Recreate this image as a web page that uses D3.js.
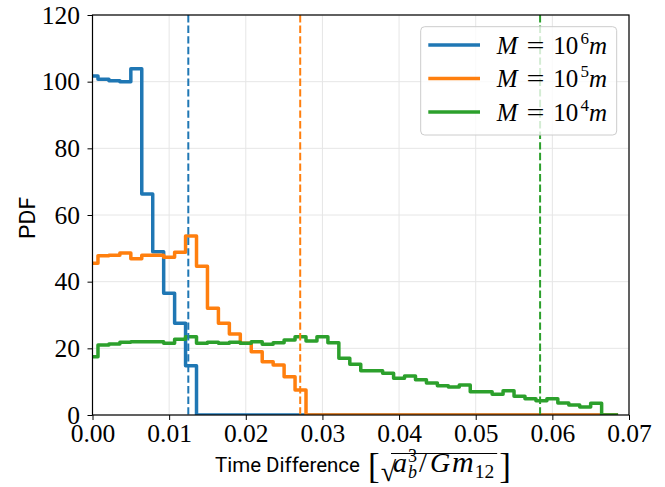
<!DOCTYPE html>
<html>
<head>
<meta charset="utf-8">
<script src="https://cdn.jsdelivr.net/npm/d3@7"></script>
<style>
  html, body { margin: 0; padding: 0; background: #fff; }
  svg { display: block; }
</style>
</head>
<body>
<svg id="chart" width="665" height="487"></svg>
<script>
// ---- data -------------------------------------------------------------
// Histogram bins: uniform width, values given at each bin position.
const binWidth = 0.07 / 49;

const pdfM6 = [101.7, 100.7, 100.3, 100.0, 103.9, 66.3, 49.0, 36.5, 27.5, 14.8,
  0, 0, 0, 0, 0, 0, 0, 0, 0, 0,
  0, 0, 0, 0, 0, 0, 0, 0, 0, 0,
  0, 0, 0, 0, 0, 0, 0, 0, 0, 0,
  0, 0, 0, 0, 0, 0, 0, 0, 0];

const pdfM5 = [45.5, 47.8, 47.9, 48.6, 46.9, 47.9, 47.9, 47.3, 48.8, 53.7,
  44.6, 32.0, 27.5, 24.3, 21.5, 19.0, 16.0, 15.0, 11.5, 7.5,
  0, 0, 0, 0, 0, 0, 0, 0, 0, 0,
  0, 0, 0, 0, 0, 0, 0, 0, 0, 0,
  0, 0, 0, 0, 0, 0, 0, 0, 0];

const pdfM4 = [17.5, 21.0, 21.3, 21.8, 22.0, 22.0, 22.0, 21.5, 22.7, 23.5,
  21.5, 21.8, 21.5, 21.8, 21.5, 22.0, 21.2, 21.7, 22.5, 23.5,
  22.2, 23.5, 21.7, 17.0, 15.2, 13.3, 13.3, 12.5, 11.0, 11.7,
  10.6, 9.6, 8.8, 8.4, 9.0, 7.0, 7.0, 6.2, 7.3, 5.6,
  4.9, 4.3, 4.9, 3.6, 3.0, 2.4, 3.5, 0, 0];

// Median time difference of each population (dashed markers)
const medians = [0.0125, 0.0271, 0.0584];

const exponents = ["6", "5", "4"];
const colors = ["#1f77b4", "#ff7f0e", "#2ca02c"];

const xTicks = [0, 0.01, 0.02, 0.03, 0.04, 0.05, 0.06, 0.07];
const yTicks = [0, 20, 40, 60, 80, 100, 120];

// ---- layout -----------------------------------------------------------
const pL = 92.5, pR = 629, pT = 15, pB = 415;
const x = d3.scaleLinear().domain([0, 0.07]).range([pL, pR]);
const y = d3.scaleLinear().domain([0, 120]).range([pB, pT]);

const svg = d3.select("#chart");
const SERIF = "'Liberation Serif', 'DejaVu Serif', serif";
const SANS = "Roboto, 'Liberation Sans', Arial, sans-serif";

svg.append("defs").append("clipPath").attr("id", "plot-clip")
  .append("rect").attr("x", pL).attr("y", pT)
  .attr("width", pR - pL).attr("height", pB - pT);

// grid
const grid = svg.append("g").attr("stroke", "#e6e6e6").attr("stroke-width", 1);
grid.selectAll("line.gx").data(xTicks).join("line")
  .attr("x1", d => x(d)).attr("x2", d => x(d))
  .attr("y1", pT).attr("y2", pB);
grid.selectAll("line.gy").data(yTicks).join("line")
  .attr("x1", pL).attr("x2", pR)
  .attr("y1", d => y(d)).attr("y2", d => y(d));

// histograms (step drawn at midpoints between bin positions)
const series = [pdfM6, pdfM5, pdfM4];
const stepLine = d3.line()
  .x(d => x(d[0]))
  .y(d => y(d[1]))
  .curve(d3.curveStep);

const plot = svg.append("g").attr("clip-path", "url(#plot-clip)");
series.forEach((vals, i) => {
  const pts = vals.map((v, k) => [k * binWidth, v]);
  plot.append("path")
    .attr("d", stepLine(pts))
    .attr("fill", "none")
    .attr("stroke", colors[i])
    .attr("stroke-width", 3.5)
    .attr("stroke-linejoin", "round");
});

// median markers
medians.forEach((m, i) => {
  plot.append("line")
    .attr("x1", x(m)).attr("x2", x(m))
    .attr("y1", pT).attr("y2", pB)
    .attr("stroke", colors[i])
    .attr("stroke-width", 2)
    .attr("stroke-dasharray", "7.4,3.2");
});

// axes
const xAxis = svg.append("g").attr("transform", `translate(0,${pB})`)
  .call(d3.axisBottom(x).tickValues(xTicks).tickFormat(d3.format(".2f"))
    .tickSize(5).tickSizeOuter(0).tickPadding(4));
const yAxis = svg.append("g").attr("transform", `translate(${pL},0)`)
  .call(d3.axisLeft(y).tickValues(yTicks).tickFormat(d3.format("d"))
    .tickSize(5).tickSizeOuter(0).tickPadding(7.5));
[xAxis, yAxis].forEach(g => {
  g.select(".domain").remove();
  g.selectAll(".tick line").attr("stroke", "#000").attr("stroke-width", 1);
  g.selectAll(".tick text").attr("fill", "#000")
    .style("font-family", SERIF).style("font-size", "25.5px");
});

// frame
svg.append("rect")
  .attr("x", pL).attr("y", pT)
  .attr("width", pR - pL).attr("height", pB - pT)
  .attr("fill", "none").attr("stroke", "#000").attr("stroke-width", 1.2);

// fit a text element to a given width by adjusting its font size
function fitWidth(sel, size, width) {
  sel.style("font-size", size + "px");
  const w = sel.node().getComputedTextLength();
  sel.style("font-size", (size * width / w) + "px");
}

// y label
const yLab = svg.append("text")
  .attr("transform", "translate(35,218) rotate(-90)")
  .attr("text-anchor", "middle")
  .style("font-family", SANS)
  .text("PDF");
fitWidth(yLab, 22, 42);

// x label: "Time Difference" followed by [ sqrt(a_b^3 / G m_12) ]
const base = 471.7;
const tdLab = svg.append("text")
  .attr("x", 215).attr("y", base)
  .style("font-family", SANS)
  .text("Time Difference");
fitWidth(tdLab, 22, 145);

const mt = svg.append("text").attr("x", 368).style("font-family", SERIF).attr("fill", "#000");
function ts(str, size, yy, opts = {}) {
  const t = mt.append("tspan").attr("y", yy)
    .style("font-size", size + "px")
    .style("font-style", opts.italic ? "italic" : "normal")
    .text(str);
  if (opts.x !== undefined) t.attr("x", opts.x);
  if (opts.dx) t.attr("dx", opts.dx);
  return t;
}
ts("[", 35, 477.5);
ts("\u221A", 28, 480.5, { dx: 1 });
const tA = ts("a", 28, base, { italic: true, x: 393 });
const t3 = ts("3", 18, base - 10, { dx: 1 });
const w3 = t3.node().getComputedTextLength();
ts("b", 18, base + 6, { italic: true, dx: -w3 });
ts("/", 28, base, { x: 419 });
ts("G", 28, base, { italic: true, x: 430 });
const tM = ts("m", 30, base, { italic: true, x: 452 });
const t12 = ts("12", 19.5, base + 6, { x: tM.node().getEndPositionOfChar(0).x + 1 });
const ovEnd = t12.node().getEndPositionOfChar(1).x + 3;
ts("]", 35, 477.5, { x: ovEnd + 2 });

const ovStart = tA.node().getStartPositionOfChar(0).x - 2;
svg.append("line")
  .attr("x1", ovStart).attr("x2", ovEnd)
  .attr("y1", 453.5).attr("y2", 453.5)
  .attr("stroke", "#000").attr("stroke-width", 1.2);

// legend
const lg = svg.append("g");
lg.append("rect")
  .attr("x", 420.7).attr("y", 26.7).attr("width", 196).attr("height", 108.3)
  .attr("rx", 4).attr("ry", 4)
  .attr("fill", "#fff").attr("fill-opacity", 0.8)
  .attr("stroke", "#cccccc").attr("stroke-width", 1);
const rowY = [45, 78.5, 112];
exponents.forEach((e, i) => {
  const yy = rowY[i];
  lg.append("line")
    .attr("x1", 428.3).attr("x2", 480).attr("y1", yy).attr("y2", yy)
    .attr("stroke", colors[i]).attr("stroke-width", 3.5);
  const t = lg.append("text").attr("y", yy + 8.5)
    .style("font-family", SERIF).style("font-size", "25px");
  t.append("tspan").attr("x", 496.7).style("font-style", "italic").text("M");
  t.append("tspan").attr("x", 526.5).attr("textLength", 18).attr("lengthAdjust", "spacingAndGlyphs").text("=");
  t.append("tspan").attr("x", 553.3).text("10");
  t.append("tspan").attr("x", 580.5).attr("dy", -10).style("font-size", "17px").text(e);
  t.append("tspan").attr("x", 589).attr("dy", 10).style("font-style", "italic").text("m");
});
</script>
</body>
</html>
